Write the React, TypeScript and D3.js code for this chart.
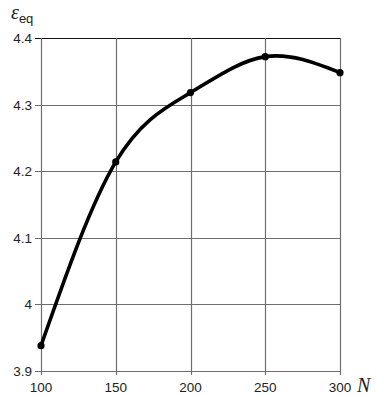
import React, { useRef, useEffect } from 'react';
import * as d3 from 'd3';

// values
const nValues = [100, 150, 200, 250, 300];
const epsValues = [3.938, 4.214, 4.318, 4.372, 4.348];
const xTicks = [100, 150, 200, 250, 300];
const yTicks = [3.9, 4.0, 4.1, 4.2, 4.3, 4.4];

const W = 377;
const H = 396;

const App = () => {
  const ref = useRef<SVGSVGElement>(null);

  useEffect(() => {
    const svg = d3.select(ref.current);
    svg.selectAll('*').remove();

    const margin = { top: 38, right: 37, bottom: 25, left: 41 };
    const x = d3.scaleLinear().domain([100, 300]).range([margin.left, W - margin.right]);
    const y = d3.scaleLinear().domain([3.9, 4.4]).range([H - margin.bottom, margin.top]);

    const grid = svg.append('g').attr('stroke', '#6e6e6e').attr('stroke-width', 1.2);

    // horizontal grid + left ticks
    grid.selectAll('line.h')
      .data(yTicks)
      .join('line')
      .attr('class', 'h')
      .attr('x1', x(100) - 6)
      .attr('x2', x(300))
      .attr('y1', d => Math.round(y(d)) + 0.5)
      .attr('y2', d => Math.round(y(d)) + 0.5)
      .attr('stroke', d => (d === 4.4 ? '#111' : '#6e6e6e'));

    // vertical grid + bottom ticks
    grid.selectAll('line.v')
      .data(xTicks)
      .join('line')
      .attr('class', 'v')
      .attr('x1', d => Math.round(x(d)) + 0.5)
      .attr('x2', d => Math.round(x(d)) + 0.5)
      .attr('y1', y(4.4))
      .attr('y2', y(3.9) + 4);

    // tick labels
    svg.append('g')
      .selectAll('text')
      .data(yTicks)
      .join('text')
      .attr('x', x(100) - 9)
      .attr('y', d => y(d) + 5)
      .attr('text-anchor', 'end')
      .attr('font-family', 'Liberation Sans, Arial, sans-serif')
      .attr('font-size', 13.5)
      .attr('fill', '#222')
      .text(d => d3.format('~g')(d));

    svg.append('g')
      .selectAll('text')
      .data(xTicks)
      .join('text')
      .attr('x', d => x(d))
      .attr('y', H - 4)
      .attr('text-anchor', 'middle')
      .attr('font-family', 'Liberation Sans, Arial, sans-serif')
      .attr('font-size', 13.5)
      .attr('fill', '#222')
      .text(d => String(d));

    // axis titles
    svg.append('text')
      .attr('x', 357)
      .attr('y', H - 4)
      .attr('font-family', 'Liberation Serif, Times New Roman, serif')
      .attr('font-style', 'italic')
      .attr('font-size', 20)
      .attr('fill', '#222')
      .text('N');

    const yt = svg.append('text')
      .attr('x', 11)
      .attr('y', 19)
      .attr('fill', '#222');
    yt.append('tspan')
      .attr('font-family', 'Liberation Serif, Times New Roman, serif')
      .attr('font-style', 'italic')
      .attr('font-size', 20)
      .text('ε');
    yt.append('tspan')
      .attr('font-family', 'Liberation Sans, Arial, sans-serif')
      .attr('font-size', 13)
      .attr('dy', 4)
      .text('eq');

    // curve
    const pts = nValues.map((n, i) => [n, epsValues[i]] as [number, number]);
    const line = d3.line<[number, number]>()
      .x(d => x(d[0]))
      .y(d => y(d[1]))
      .curve(d3.curveNatural);

    svg.append('path')
      .datum(pts)
      .attr('d', line)
      .attr('fill', 'none')
      .attr('stroke', '#000')
      .attr('stroke-width', 3.6)
      .attr('stroke-linecap', 'round');

    svg.append('g')
      .selectAll('circle')
      .data(pts)
      .join('circle')
      .attr('cx', d => x(d[0]))
      .attr('cy', d => y(d[1]))
      .attr('r', 3.6)
      .attr('fill', '#000');
  }, []);

  return (
    <svg
      ref={ref}
      width={W}
      height={H}
      style={{ position: 'absolute', left: 0, top: 0, background: '#fff' }}
    />
  );
};

export default App;
